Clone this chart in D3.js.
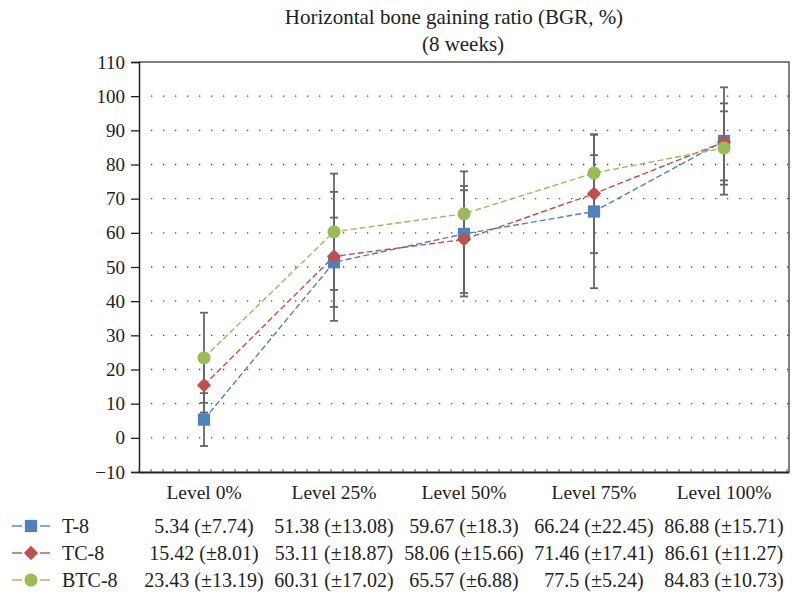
<!DOCTYPE html>
<html>
<head>
<meta charset="utf-8">
<script src="https://cdn.jsdelivr.net/npm/d3@7"></script>
<style>
  body { margin: 0; background: #fff; }
  text { font-family: "Liberation Serif", "DejaVu Serif", serif; fill: #222; }
</style>
</head>
<body>
<svg id="chart" width="793" height="595"></svg>
<script>
// data
var levels = ["Level 0%", "Level 25%", "Level 50%", "Level 75%", "Level 100%"];
var seriesNames = ["T-8", "TC-8", "BTC-8"];
var meanT = [5.34, 51.38, 59.67, 66.24, 86.88];
var sdT = [7.74, 13.08, 18.3, 22.45, 15.71];
var meanTC = [15.42, 53.11, 58.06, 71.46, 86.61];
var sdTC = [8.01, 18.87, 15.66, 17.41, 11.27];
var meanBTC = [23.43, 60.31, 65.57, 77.5, 84.83];
var sdBTC = [13.19, 17.02, 6.88, 5.24, 10.73];
var yTicks = [-10, 0, 10, 20, 30, 40, 50, 60, 70, 80, 90, 100, 110];
var colors = ["#4f81bd", "#c0504d", "#9bbb59"];
var shapes = ["square", "diamond", "circle"];

var series = [
   {name: seriesNames[0], mean: meanT, sd: sdT},
   {name: seriesNames[1], mean: meanTC, sd: sdTC},
   {name: seriesNames[2], mean: meanBTC, sd: sdBTC}
];

var svg = d3.select("#chart");
var pLeft = 139, pRight = 789, pTop = 62, pBottom = 472;

var x = d3.scaleBand().domain(levels).range([pLeft, pRight]);
var y = d3.scaleLinear().domain([-10, 110]).range([pBottom, pTop]);
var cx = function(l){ return x(l) + x.bandwidth()/2 };

// title
svg.append("text").attr("x", 454).attr("y", 24).attr("text-anchor", "middle")
   .style("font-size", "21px").text("Horizontal bone gaining ratio (BGR, %)");
svg.append("text").attr("x", 463).attr("y", 51).attr("text-anchor", "middle")
   .style("font-size", "21px").text("(8 weeks)");

// dotted grid
svg.append("g").selectAll("line")
   .data(yTicks.filter(function(d){ return d >= 0 && d <= 100 }))
   .enter().append("line")
   .attr("x1", pLeft + 12).attr("x2", pRight)
   .attr("y1", function(d){ return y(d) }).attr("y2", function(d){ return y(d) })
   .attr("stroke", "#444").attr("stroke-width", 1.3)
   .attr("stroke-dasharray", "1.3,10.7");

// frame (top & right)
svg.append("path")
   .attr("d", "M" + pLeft + "," + pTop + "H" + pRight + "V" + pBottom)
   .attr("fill", "none").attr("stroke", "#555").attr("stroke-width", 1.5);

// y axis
var yAxis = svg.append("g").attr("transform", "translate(" + pLeft + ",0)")
   .call(d3.axisLeft(y).tickValues(yTicks).tickSize(8).tickPadding(6)
      .tickFormat(function(d){ return d < 0 ? "\u2212" + Math.abs(d) : d }));
yAxis.select(".domain").attr("stroke", "#222").attr("stroke-width", 1.5);
yAxis.selectAll(".tick line").attr("stroke", "#222").attr("stroke-width", 1.3);
yAxis.selectAll("text").style("font-size", "19px")
   .style("font-family", "Liberation Serif, serif").attr("fill", "#222");

// x axis with small minor ticks
var minor = d3.range(pLeft, pRight, 12);
svg.append("g").selectAll("line").data(minor).enter().append("line")
   .attr("x1", function(d){ return d }).attr("x2", function(d){ return d })
   .attr("y1", pBottom).attr("y2", pBottom - 3)
   .attr("stroke", "#555").attr("stroke-width", 1);
var xAxis = svg.append("g").attr("transform", "translate(0," + pBottom + ")")
   .call(d3.axisBottom(x).tickSize(0).tickPadding(13));
xAxis.select(".domain").attr("stroke", "#222").attr("stroke-width", 1.8);
xAxis.selectAll("text").style("font-size", "19.5px")
   .style("font-family", "Liberation Serif, serif").attr("fill", "#222");

// error bars
series.forEach(function(s){
   var g = svg.append("g").attr("stroke", "#666").attr("stroke-width", 1.8);
   levels.forEach(function(l, i){
      var px = cx(l), lo = y(s.mean[i] - s.sd[i]), hi = y(s.mean[i] + s.sd[i]);
      g.append("line").attr("x1", px).attr("x2", px).attr("y1", lo).attr("y2", hi);
      g.append("line").attr("x1", px - 4).attr("x2", px + 4).attr("y1", lo).attr("y2", lo);
      g.append("line").attr("x1", px - 4).attr("x2", px + 4).attr("y1", hi).attr("y2", hi);
   });
});

// dashed lines
var line = d3.line().x(function(d, i){ return cx(levels[i]) }).y(function(d){ return y(d) });
series.forEach(function(s, k){
   svg.append("path").datum(s.mean).attr("d", line)
      .attr("fill", "none").attr("stroke", colors[k]).attr("stroke-width", 1.4)
      .attr("stroke-dasharray", "6,3");
});

// markers
var symbolOf = function(k){
   if(shapes[k] == "square") return d3.symbol().type(d3.symbolSquare).size(150);
   if(shapes[k] == "diamond") return d3.symbol().type(d3.symbolDiamond2).size(130);
   return d3.symbol().type(d3.symbolCircle).size(135);
};
series.forEach(function(s, k){
   svg.append("g").selectAll("path").data(s.mean).enter().append("path")
      .attr("d", symbolOf(k))
      .attr("transform", function(d, i){ return "translate(" + cx(levels[i]) + "," + y(d) + ")" })
      .attr("fill", colors[k]);
});

// legend table
var rowY = [526, 553, 580];
series.forEach(function(s, k){
   var ry = rowY[k];
   [[12, 22], [40, 50]].forEach(function(seg){
      svg.append("line").attr("x1", seg[0]).attr("x2", seg[1]).attr("y1", ry).attr("y2", ry)
         .attr("stroke", colors[k]).attr("stroke-width", 1.4);
   });
   svg.append("path").attr("d", symbolOf(k))
      .attr("transform", "translate(31," + ry + ")").attr("fill", colors[k]);
   svg.append("text").attr("x", 62).attr("y", ry + 7).style("font-size", "20px").text(s.name);
   levels.forEach(function(l, i){
      svg.append("text").attr("x", cx(l)).attr("y", ry + 7).attr("text-anchor", "middle")
         .style("font-size", "20px")
         .text(s.mean[i] + " (\u00b1" + s.sd[i] + ")");
   });
});
</script>
</body>
</html>
